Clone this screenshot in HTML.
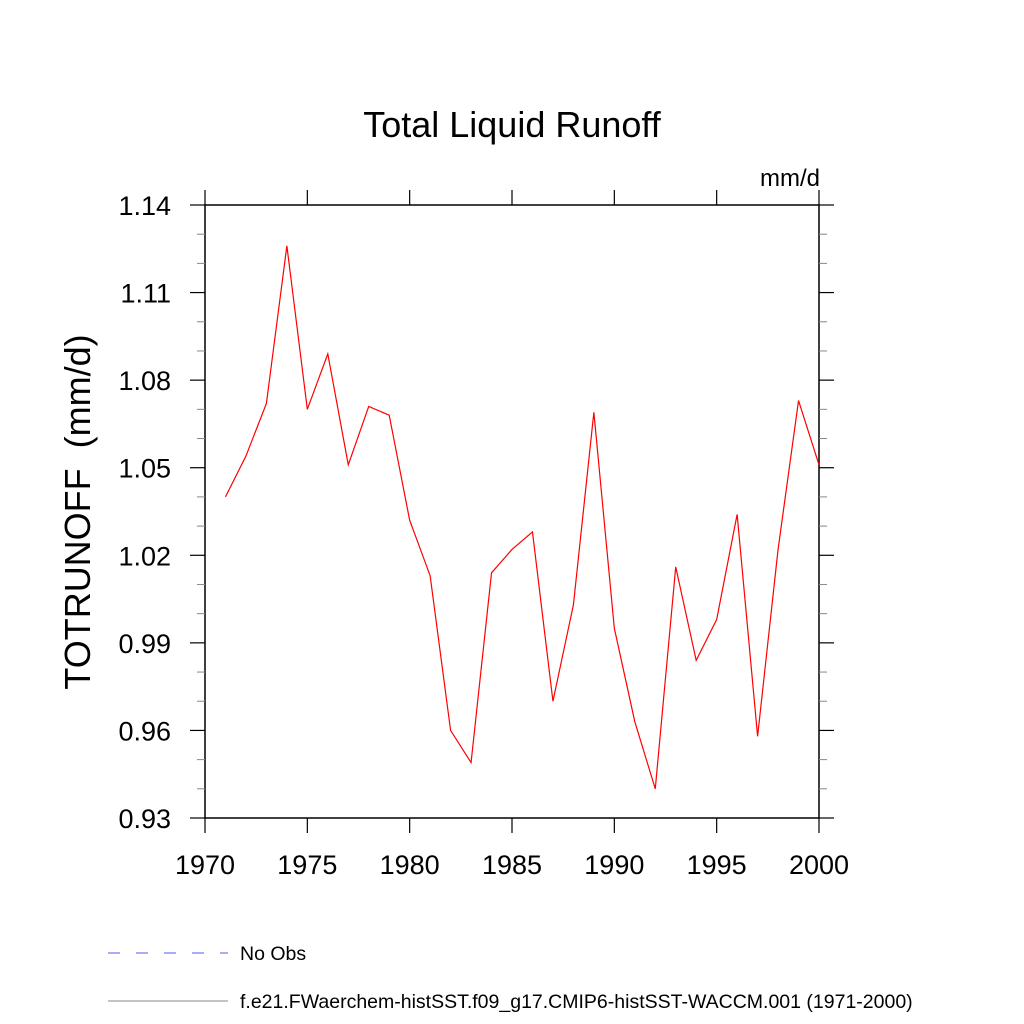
<!DOCTYPE html>
<html><head><meta charset="utf-8"><style>body{margin:0;background:#fff}svg{display:block}</style></head>
<body>
<svg id="chart" width="1024" height="1024" xmlns="http://www.w3.org/2000/svg" font-family="Liberation Sans, sans-serif">
<text x="512" y="137" font-size="36" text-anchor="middle">Total Liquid Runoff</text>
<text x="820" y="186" font-size="24" text-anchor="end">mm/d</text>
<text transform="translate(90,512) rotate(-90)" font-size="36" text-anchor="middle" style="white-space:pre" xml:space="preserve">TOTRUNOFF  (mm/d)</text>
<g id="axes"></g>
<g id="series"></g>
<g>
<line x1="108" y1="953" x2="228" y2="953" stroke="#5555ff" stroke-dasharray="12,16"/>
<text x="240" y="960" font-size="19.5">No Obs</text>
<line x1="108" y1="1001" x2="228" y2="1001" stroke="#888"/>
<text x="240" y="1008" font-size="19.5">f.e21.FWaerchem-histSST.f09_g17.CMIP6-histSST-WACCM.001 (1971-2000)</text>
</g>
</svg>
<script>
const years=[1971,1972,1973,1974,1975,1976,1977,1978,1979,1980,1981,1982,1983,1984,1985,1986,1987,1988,1989,1990,1991,1992,1993,1994,1995,1996,1997,1998,1999,2000];
const values=[1.040,1.054,1.072,1.126,1.070,1.089,1.051,1.071,1.068,1.032,1.013,0.960,0.949,1.014,1.022,1.028,0.970,1.003,1.069,0.995,0.963,0.940,1.016,0.984,0.998,1.034,0.958,1.022,1.073,1.051];
const xTicks=[1970,1975,1980,1985,1990,1995,2000];
const yTicks=[0.93,0.96,0.99,1.02,1.05,1.08,1.11,1.14];
const L=205,R=819,T=205,B=818,x0=1970,x1=2000,y0=0.93,y1=1.14;
const X=v=>L+(v-x0)/(x1-x0)*(R-L), Y=v=>B-(v-y0)/(y1-y0)*(B-T);
const NS='http://www.w3.org/2000/svg';
const ax=document.getElementById('axes'), se=document.getElementById('series');
function mk(p,tag,a){const e=document.createElementNS(NS,tag);for(const k in a)e.setAttribute(k,a[k]);p.appendChild(e);return e;}
const fr=mk(ax,'rect',{x:L,y:T,width:R-L,height:B-T,fill:'none',stroke:'#000','stroke-width':1.5});


xTicks.forEach(t=>{const x=X(t);
 const a=mk(ax,'line',{x1:x,x2:x,y1:B,y2:B+15,stroke:'#000','stroke-width':1.2});
 
 
 const b=mk(ax,'line',{x1:x,x2:x,y1:T,y2:T-15,stroke:'#000','stroke-width':1.2});
 
 
 const tx=mk(ax,'text',{x:x,y:B+56,'font-size':27,'text-anchor':'middle'});tx.textContent=t;
 
 
});
for(let i=0;i<yTicks.length-1;i++){for(let j=1;j<3;j++){const y=Y(yTicks[i]+j*0.01);
 const a=mk(ax,'line',{x1:L-8,x2:L,y1:y,y2:y,stroke:'#888'});
 
 
 const b=mk(ax,'line',{x1:R,x2:R+8,y1:y,y2:y,stroke:'#888'});
 
 }}
yTicks.forEach(t=>{const y=Y(t);
 const a=mk(ax,'line',{x1:L-15,x2:L,y1:y,y2:y,stroke:'#000','stroke-width':1.2});
 
 
 const b=mk(ax,'line',{x1:R,x2:R+15,y1:y,y2:y,stroke:'#000','stroke-width':1.2});
 
 
 const tx=mk(ax,'text',{x:L-34,y:y+10,'font-size':27,'text-anchor':'end'});tx.textContent=t.toFixed(2);
 
 
});
const pl=mk(se,'polyline',{points:years.map((yr,i)=>X(yr)+','+Y(values[i])).join(' '),fill:'none',stroke:'#ff0000','stroke-width':1.2});


</script>
</body></html>
